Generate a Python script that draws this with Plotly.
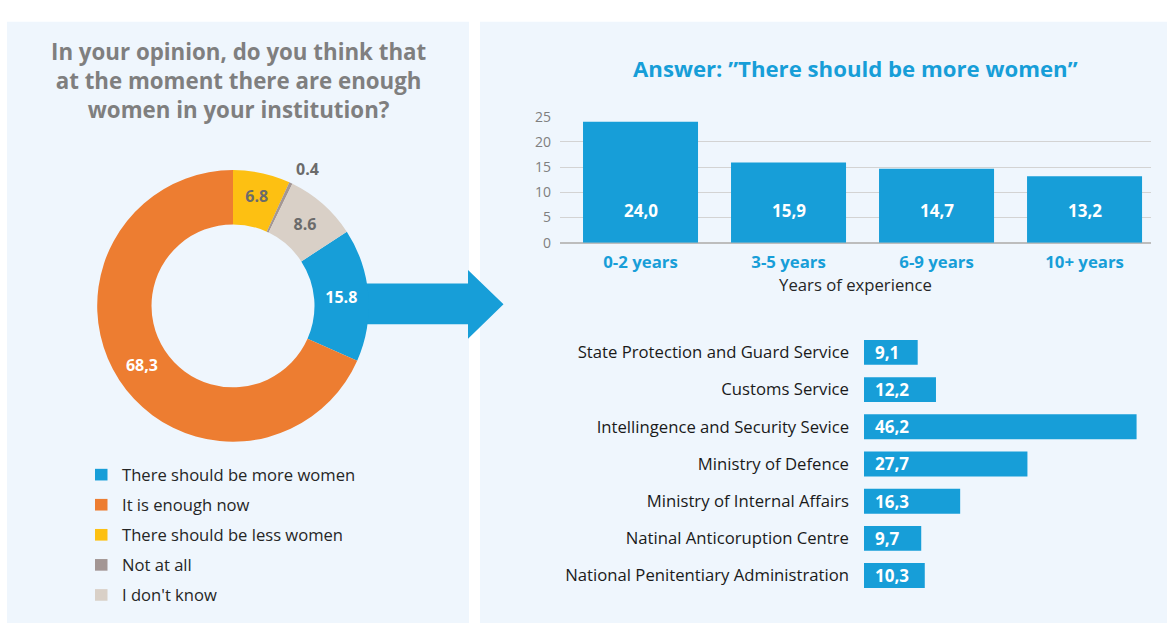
import plotly.graph_objects as go

W, H = 1171, 634

# ---------------- data ----------------
donut_labels = ["There should be more women", "It is enough now", "There should be less women",
                "Not at all", "I don't know"]
donut_values = [15.8, 68.3, 6.8, 0.4, 8.6]
donut_text = ["15.8", "68,3", "6.8", "0.4", "8.6"]
donut_colors = ["#179ed8", "#ed7d31", "#fdc012", "#a39694", "#d9d0c7"]
donut_text_colors = ["white", "white", "#6b6b6b", "#6b6b6b", "#6b6b6b"]

exp_cats = ["0-2 years", "3-5 years", "6-9 years", "10+ years"]
exp_vals = [24.0, 15.9, 14.7, 13.2]

inst_cats = ["State Protection and Guard Service", "Customs Service", "Intellingence and Security Sevice",
             "Ministry of Defence", "Ministry of Internal Affairs", "Natinal Anticoruption Centre",
             "National Penitentiary Administration"]
inst_vals = [9.1, 12.2, 46.2, 27.7, 16.3, 9.7, 10.3]

left_title = "In your opinion, do you think that<br>at the moment there are enough<br>women in your institution?"
right_title = "Answer: ”There should be more women”"

BLUE = "#179ed8"
PANEL = "#eff6fd"
FONT = "Open Sans"


def px(x):
    return x / W


def py(y):
    return 1 - y / H


def fmt(v):
    return f"{v:.1f}".replace(".", ",")


fig = go.Figure()

total = sum(donut_values)
rot = (donut_values[2] + donut_values[3] + donut_values[4]) / total * 360

# the tiny gray slice gets its label as a free annotation outside the ring
pie_text = [t if i != 3 else "" for i, t in enumerate(donut_text)]

fig.add_trace(go.Pie(
    labels=donut_labels, values=donut_values, text=pie_text,
    textinfo="text", hole=0.6, sort=False, direction="clockwise", rotation=rot,
    marker=dict(colors=donut_colors, line=dict(width=0)),
    textfont=dict(family=FONT, size=16, color=donut_text_colors, weight="bold"),
    insidetextorientation="horizontal", textposition="inside",
    domain=dict(x=[px(93), px(373)], y=[py(445), py(165)]),
    showlegend=False, hoverinfo="label+value",
))

fig.add_trace(go.Bar(
    x=exp_cats, y=exp_vals, width=0.777, marker=dict(color=BLUE, line=dict(width=0)),
    xaxis="x", yaxis="y", showlegend=False,
))

fig.add_trace(go.Bar(
    x=inst_vals, y=inst_cats, orientation="h", width=0.67,
    marker=dict(color=BLUE, line=dict(width=0)),
    xaxis="x2", yaxis="y2", showlegend=False,
))

shapes = [
    dict(type="rect", xref="paper", yref="paper", x0=px(7), x1=px(469), y0=py(632), y1=py(12),
         fillcolor=PANEL, line=dict(width=0), layer="below"),
    dict(type="rect", xref="paper", yref="paper", x0=px(480), x1=px(1167), y0=py(632), y1=py(12),
         fillcolor=PANEL, line=dict(width=0), layer="below"),
]
arrow_path = (f"M {px(340)},{py(282)} L {px(468)},{py(282)} L {px(468)},{py(268)} "
              f"L {px(503.5)},{py(303.3)} L {px(468)},{py(339)} L {px(468)},{py(324)} "
              f"L {px(340)},{py(324)} Z")
shapes.append(dict(type="path", xref="paper", yref="paper", path=arrow_path,
                   fillcolor=BLUE, line=dict(width=0), layer="below"))

annotations = [
    dict(text=left_title, x=px(239), y=py(73), xref="paper", yref="paper", showarrow=False,
         xanchor="center", yanchor="middle", align="center",
         font=dict(family=FONT, size=22.3, color="#7f7f7f", weight="bold")),
    dict(text=right_title, x=px(855), y=py(60), xref="paper", yref="paper", showarrow=False,
         xanchor="center", yanchor="middle",
         font=dict(family=FONT, size=22.2, color=BLUE, weight="bold")),
    dict(text=donut_text[3], x=px(307), y=py(164), xref="paper", yref="paper", showarrow=False,
         xanchor="center", yanchor="middle",
         font=dict(family=FONT, size=16, color=donut_text_colors[3], weight="bold")),
]

# legend (manual)
for i, (lab, col) in enumerate(zip(donut_labels, donut_colors)):
    yc = 479 + i * 31
    shapes.append(dict(type="rect", xref="paper", yref="paper", x0=px(95), x1=px(107.5),
                       y0=py(yc + 6), y1=py(yc - 6), fillcolor=col, line=dict(width=0)))
    annotations.append(dict(text=lab, x=px(120), y=py(yc), xref="paper", yref="paper",
                            showarrow=False, xanchor="left", yanchor="middle",
                            font=dict(family=FONT, size=16.6, color="#262626")))

# value labels on vertical bars
for c, v in zip(exp_cats, exp_vals):
    annotations.append(dict(text=fmt(v), x=c, y=6.4, xref="x", yref="y", showarrow=False,
                            xanchor="center", yanchor="middle",
                            font=dict(family=FONT, size=17, color="white", weight="bold")))

# value labels on horizontal bars
for c, v in zip(inst_cats, inst_vals):
    annotations.append(dict(text=fmt(v), x=0, y=c, xref="x2", yref="y2", showarrow=False,
                            xanchor="left", yanchor="middle", xshift=9,
                            font=dict(family=FONT, size=17, color="white", weight="bold")))

fig.update_layout(
    width=W, height=H, margin=dict(l=0, r=0, t=0, b=0),
    paper_bgcolor="white", plot_bgcolor="rgba(0,0,0,0)",
    font=dict(family=FONT),
    shapes=shapes, annotations=annotations,
    xaxis=dict(domain=[px(560), px(1151)], range=[-0.544, 3.449], type="category",
               showgrid=False, showline=False, zeroline=False, ticks="",
               ticklabelstandoff=7,
               tickfont=dict(family=FONT, size=16.8, color=BLUE, weight="bold"),
               title=dict(text="Years of experience", standoff=7,
                          font=dict(family=FONT, size=16.7, color="#262626")),
               fixedrange=True),
    yaxis=dict(domain=[py(240), py(110)], range=[0, 25], dtick=5,
               showgrid=True, gridcolor="#d3d3d3", gridwidth=1,
               zeroline=True, zerolinecolor="#bdbdbd", zerolinewidth=2,
               showline=False, ticks="", ticklabelstandoff=8,
               tickfont=dict(family=FONT, size=14, color="#7f7f7f")),
    xaxis2=dict(domain=[px(864), px(1159)], range=[0, 50], visible=False, anchor="y2"),
    yaxis2=dict(domain=[py(602.2), py(333.8)], type="category", range=[6.5, -0.5],
                anchor="x2", showgrid=False, zeroline=False, showline=False, ticks="",
                ticklabelstandoff=14,
                tickfont=dict(family=FONT, size=16.7, color="#1a1a1a")),
)

fig.write_html("out.html")
